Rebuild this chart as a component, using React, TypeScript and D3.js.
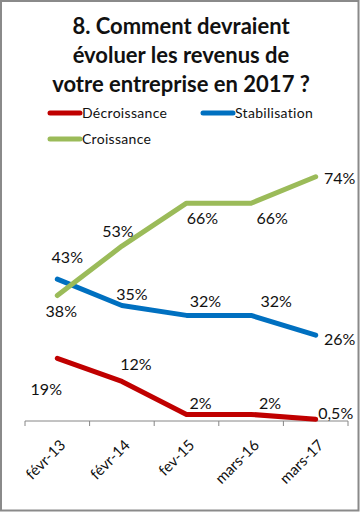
import React from "react";
import * as d3 from "d3";

const categories = ["févr-13", "févr-14", "fev-15", "mars-16", "mars-17"];
const decroissance = [19, 12, 2, 2, 0.5];
const stabilisation = [43, 35, 32, 32, 26];
const croissance = [38, 53, 66, 66, 74];
const decLabels = ["19%", "12%", "2%", "2%", "0,5%"];
const stabLabels = ["43%", "35%", "32%", "32%", "26%"];
const croLabels = ["38%", "53%", "66%", "66%", "74%"];
const titleLines = ["8. Comment devraient", "évoluer les revenus de", "votre entreprise en 2017 ?"];

const W = 360;
const H = 512;

// label offsets [dx, dy] relative to point, per series
const decOff: [number, number][] = [[-11, 30], [14, -18], [14, -12], [19, -12], [20, -7]];
const stabOff: [number, number][] = [[10, -23], [10, -12], [19, -15], [25, -15], [24, 3]];
const croOff: [number, number][] = [[4, 15], [-4, -16], [16, 14], [21, 14], [24, 1]];

export default function App() {
  const x = d3.scaleBand<string>().domain(categories).range([25, 348]);
  const y = d3.scaleLinear().domain([0, 80]).range([421, 157]);
  const cx = (c: string) => (x(c) as number) + x.bandwidth() / 2;
  const line = d3
    .line<number>()
    .x((_, i) => cx(categories[i]))
    .y((d) => y(d));

  const series = [
    { name: "Décroissance", values: decroissance, labels: decLabels, off: decOff, color: "#C00000" },
    { name: "Stabilisation", values: stabilisation, labels: stabLabels, off: stabOff, color: "#0070C0" },
    { name: "Croissance", values: croissance, labels: croLabels, off: croOff, color: "#9BBB59" },
  ];

  const tickXs = categories.map((c) => x(c) as number).concat([x.range()[1]]);
  const legendPos = [
    { x: 50, y: 113 },
    { x: 203, y: 113 },
    { x: 50, y: 139 },
  ];

  return (
    <svg
      width={W}
      height={H}
      style={{ position: "absolute", left: 0, top: 0, background: "#fff" }}
      fontFamily="Lato, 'Liberation Sans', sans-serif"
    >
      <rect x={0} y={0} width={W} height={H} fill="#fff" />
      <rect x={1} y={1} width={W - 2.5} height={H - 2.5} fill="none" stroke="#8a8a8a" strokeWidth={2} />
      {titleLines.map((t, i) => (
        <text
          key={i}
          x={181}
          y={34 + i * 29}
          textAnchor="middle"
          fontSize={22}
          fontWeight="bold"
          fill="#111"
        >
          {t}
        </text>
      ))}
      {series.map((s, i) => (
        <g key={s.name}>
          <line
            x1={legendPos[i].x}
            x2={legendPos[i].x + 30}
            y1={legendPos[i].y}
            y2={legendPos[i].y}
            stroke={s.color}
            strokeWidth={5}
            strokeLinecap="round"
          />
          <text
            x={legendPos[i].x + 32}
            y={legendPos[i].y + 5}
            fontSize={14}
            letterSpacing={0.3}
            fill="#111"
          >
            {s.name}
          </text>
        </g>
      ))}
      <line x1={25} x2={348} y1={421} y2={421} stroke="#868686" strokeWidth={1} />
      {tickXs.map((t, i) => (
        <line key={i} x1={t} x2={t} y1={421} y2={426} stroke="#868686" strokeWidth={1} />
      ))}
      {categories.map((c) => (
        <text
          key={c}
          transform={`translate(${cx(c) + 9},${446}) rotate(-45)`}
          textAnchor="end"
          fontSize={15}
          fill="#111"
        >
          {c}
        </text>
      ))}
      {series.map((s) => (
        <path
          key={s.name}
          d={line(s.values) as string}
          fill="none"
          stroke={s.color}
          strokeWidth={5}
          strokeLinejoin="round"
          strokeLinecap="round"
        />
      ))}
      {series.map((s) =>
        s.values.map((v, i) => (
          <text
            key={s.name + i}
            x={cx(categories[i]) + s.off[i][0]}
            y={y(v) + s.off[i][1]}
            textAnchor="middle"
            dominantBaseline="central"
            fontSize={16}
            fill="#111"
          >
            {s.labels[i]}
          </text>
        ))
      )}
    </svg>
  );
}
